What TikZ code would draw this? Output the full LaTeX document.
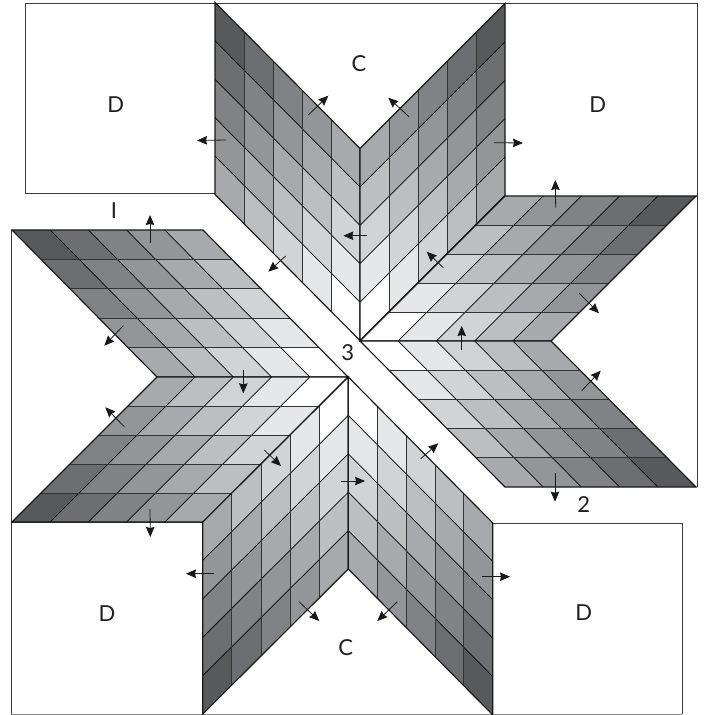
\documentclass[tikz,border=0pt]{standalone}
\usepackage{fontspec}
\setmainfont{Lato}
\usetikzlibrary{arrows.meta}
\definecolor{g0}{HTML}{FFFFFF}
\definecolor{g1}{HTML}{E6E7E8}
\definecolor{g2}{HTML}{D1D3D4}
\definecolor{g3}{HTML}{BCBEC0}
\definecolor{g4}{HTML}{A7A9AC}
\definecolor{g5}{HTML}{939598}
\definecolor{g6}{HTML}{808285}
\definecolor{g7}{HTML}{6D6E71}
\definecolor{g8}{HTML}{58595B}
\definecolor{framegray}{HTML}{3A3A3C}
\tikzset{
  x=1pt,y=-1pt,
  gridU/.style={draw=black!80,line width=0.95pt},
  gridV/.style={draw=black,line width=0.7pt},
  outline/.style={draw=black!90,line width=1.15pt,line join=miter},
  framing/.style={draw=framegray,line width=1pt},
  framinglight/.style={draw=black!45,line width=1pt},
  pointer/.style={draw=black!90,line width=0.8pt,-{Stealth[length=10pt,width=8.5pt,inset=1pt]}},
  letter/.style={font=\fontsize{22}{22}\selectfont,text=black!88,inner sep=0pt},
}
% origin x,y ; cell vector u ; cell vector v
\newcommand{\quiltpiece}[6]{%
  \begin{scope}[shift={(#1,#2)}]
    \foreach \i in {0,...,4}{\foreach \j in {0,...,4}{%
      \pgfmathtruncatemacro{\s}{\i+\j}%
      \fill[g\s] ({\i*(#3)+\j*(#5)},{\i*(#4)+\j*(#6)}) -- ++(#3,#4) -- ++(#5,#6) -- ++({-(#3)},{-(#4)}) -- cycle;
    }}
    \foreach \k in {1,...,4}{%
      \draw[gridV] ({\k*(#3)},{\k*(#4)}) -- ++({5*(#5)},{5*(#6)});
    }
    \foreach \k in {1,...,4}{%
      \draw[gridU] ({\k*(#5)},{\k*(#6)}) -- ++({5*(#3)},{5*(#4)});
    }
    \draw[outline] (0,0) -- ({5*(#3)},{5*(#4)}) -- ++({5*(#5)},{5*(#6)}) -- ++({-5*(#3)},{-5*(#4)}) -- cycle;
  \end{scope}%
}
\begin{document}
\begin{tikzpicture}
\useasboundingbox (0,0) rectangle (704,715);
\fill[white] (0,0) rectangle (704,715);
% frame squares
\draw[framing] (215,193.5) -- (25.5,193.5) -- (25.5,3) -- (697,3) -- (697,487);
\draw[framing] (505,196) -- (697,196);
\draw[framing] (11,230) -- (11,714);
\draw[framing] (11,522) -- (203,522);
\draw[framing] (493,523.5) -- (682,523.5) -- (682,714);
\draw[framinglight] (11,714) -- (682,714);
% top pair
\quiltpiece{360}{340.5}{0}{-38.4}{-29}{-29.2}
\quiltpiece{360}{340.5}{0}{-38.4}{29}{-29}
% right pair
\quiltpiece{360}{341}{38.2}{0}{29}{-29}
\quiltpiece{360}{341}{38.2}{0}{29}{29.2}
% left pair
\quiltpiece{348}{377}{-38.2}{0}{-29}{-29.4}
\quiltpiece{348}{377}{-38.2}{0}{-29}{29}
% bottom pair
\quiltpiece{348.3}{377}{0}{38.4}{-29.1}{29}
\quiltpiece{348.3}{377}{0}{38.4}{28.9}{29.2}
% arrows
\foreach \ax/\ay/\bx/\by in {
  308.3/115/328.3/95.7, 409/116.7/388.3/97.7, 226/140/197/140.5, 494/142.7/523/143,
  366.7/235.7/343.3/235.7, 285.7/256/268.3/271.7, 443.3/267.7/426.7/251.7, 461.7/350/461.7/326,
  555.7/207.7/555.3/180, 579.3/293.3/599/313.3, 581.7/390.7/600.7/370.7, 555/473.3/555/501.7,
  420.7/458.7/438.3/443.3, 150/243.3/150/215, 123.3/325.7/104.3/345.7, 243.3/370/243.3/393.3,
  124.3/426.7/105.3/407.3, 264.3/450/281/466, 150/509/150.3/537, 214/573.7/186/573.7,
  341.3/481/365/481, 482/576.7/510/576.7, 299/601.7/319.3/621, 397.3/601.7/377.3/621}{
  \draw[pointer] (\ax,\ay) -- (\bx,\by);
}
% labels
\node[letter] (cTop) at (359,64) {C};
\node[letter] (cBot) at (345.7,648) {C};
\node[letter] (dTL) at (115.7,105) {D};
\node[letter] (dTR) at (597.7,105) {D};
\node[letter] (dBR) at (583.7,613) {D};
\node[letter] (dBL) at (107,614) {D};
\node[letter] (one) at (114,211) {I};
\node[letter] (two) at (583.7,505) {2};
\node[letter] (three) at (347.7,353) {3};
\end{tikzpicture}
\end{document}
